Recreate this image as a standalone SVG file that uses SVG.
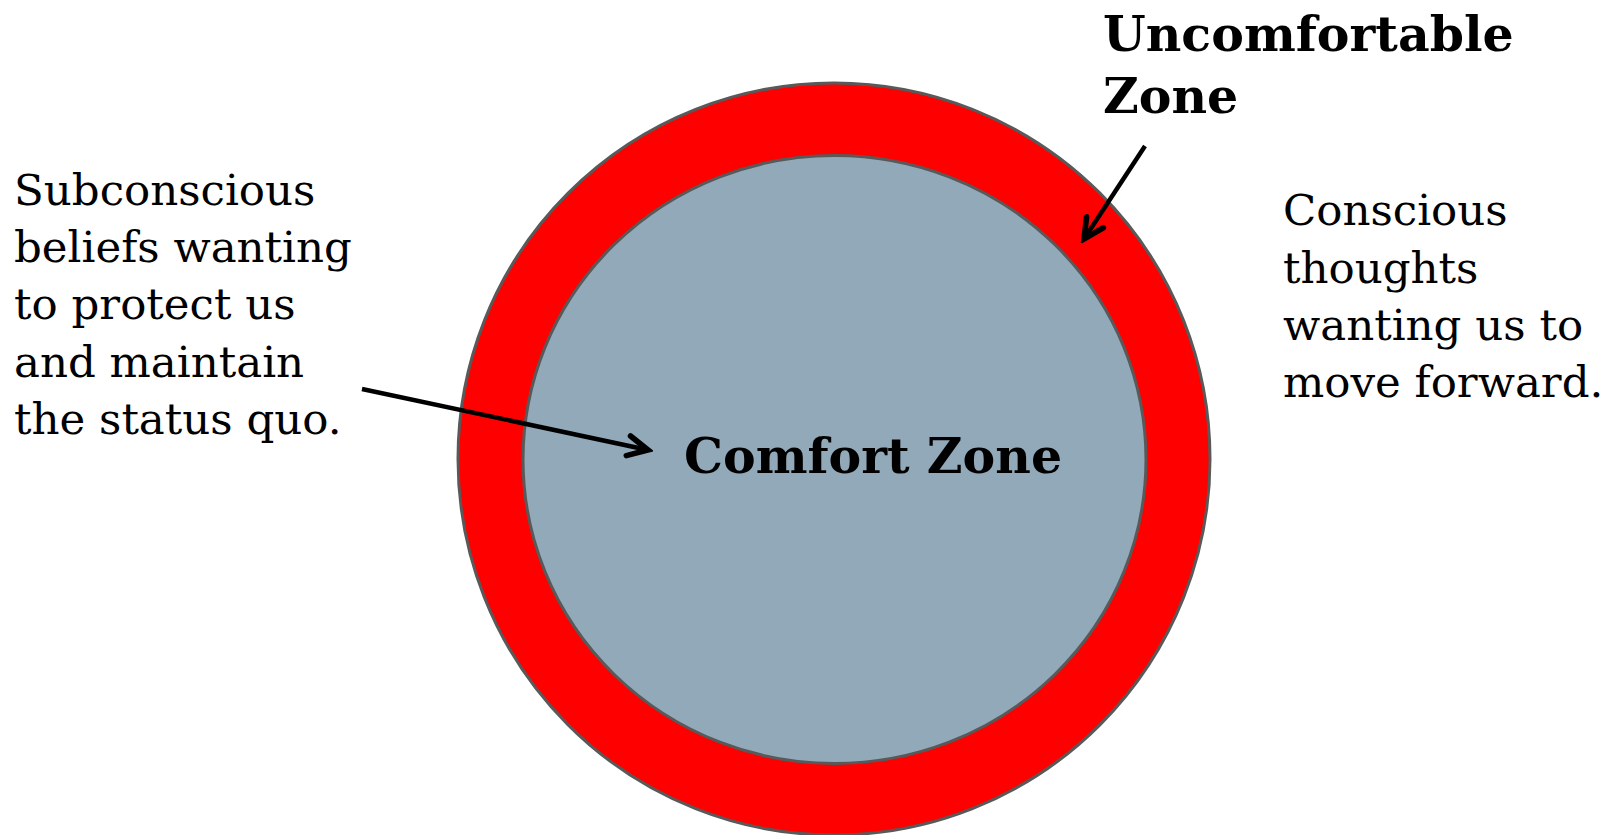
<svg xmlns="http://www.w3.org/2000/svg" width="1605" height="835" viewBox="0 0 1605 835">
<style>
.ring{stroke:#595959;stroke-width:3}
.txt{font-family:"DejaVu Serif","Liberation Serif",serif;fill:#000}
.reg{font-size:43.5px}
.bold{font-size:49px;font-weight:bold}
.conn{stroke:#000;stroke-width:4.5;fill:none}
</style>
<defs>
<marker id="arr" markerUnits="userSpaceOnUse" markerWidth="30" markerHeight="30" viewBox="-2 -2 24 24" refX="18" refY="10" orient="auto">
<path d="M2,2 L18,10 L2,18" fill="none" stroke="#000" stroke-width="4.5" stroke-linecap="round" stroke-linejoin="miter"/>
</marker>
</defs>
<rect width="1605" height="835" fill="#fff"/>
<g id="uncomfortable-zone">
<circle class="ring" cx="834" cy="459" r="376" fill="#ff0000"/>
</g>
<g id="comfort-zone">
<ellipse class="ring" cx="834.5" cy="459.5" rx="311.5" ry="304" fill="#92a9b9"/>
<text class="txt bold" x="684" y="473">Comfort Zone</text>
</g>
<g id="label-uncomfortable">
<text class="txt bold" x="1103" y="51">Uncomfortable</text>
<text class="txt bold" x="1103" y="113">Zone</text>
</g>
<g id="label-subconscious">
<text class="txt reg" x="14" y="205">Subconscious</text>
<text class="txt reg" x="14" y="262">beliefs wanting</text>
<text class="txt reg" x="14" y="319">to protect us</text>
<text class="txt reg" x="14" y="377">and maintain</text>
<text class="txt reg" x="14" y="434">the status quo.</text>
</g>
<g id="label-conscious">
<text class="txt reg" x="1283" y="225">Conscious</text>
<text class="txt reg" x="1283" y="283">thoughts</text>
<text class="txt reg" x="1283" y="340">wanting us to</text>
<text class="txt reg" x="1283" y="397">move forward.</text>
</g>
<g id="connectors">
<line class="conn" x1="362" y1="389" x2="648" y2="450" marker-end="url(#arr)"/>
<line class="conn" x1="1145" y1="146" x2="1084" y2="239" marker-end="url(#arr)"/>
</g>
</svg>
